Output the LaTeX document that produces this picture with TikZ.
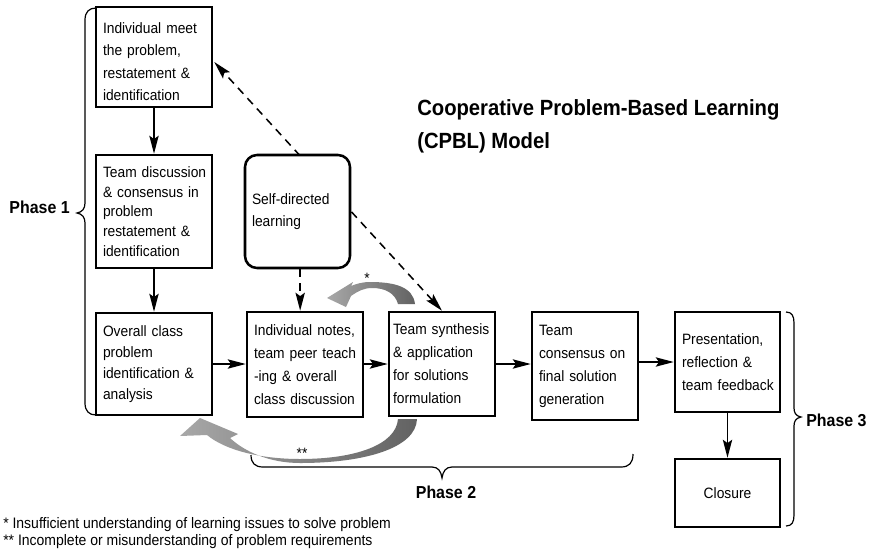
\documentclass[tikz,border=0pt]{standalone}
\usepackage{fontspec}
\setmainfont{Liberation Sans}[FakeStretch=0.92]
\usetikzlibrary{arrows.meta,calc}
\hyphenpenalty=10000\relax
\exhyphenpenalty=10000\relax

\definecolor{loopdark}{RGB}{98,98,98}
\definecolor{looplight}{RGB}{168,168,168}

\tikzset{
  stage/.style={draw, line width=1.9pt, fill=white, inner xsep=5.25pt, inner ysep=0pt, align=left},
  fs/.style={font=\fontsize{11.25}{#1}\selectfont},
  arr/.style={line width=1.15pt, ->},
  dasharr/.style={line width=1.15pt, dash pattern=on 6pt off 4.5pt},
  brace/.style={line width=0.9pt},
  phase/.style={font=\fontsize{13}{15}\selectfont\bfseries, inner sep=0pt},
  title/.style={font=\fontsize{16.5}{20}\selectfont\bfseries, inner sep=0pt},
  note/.style={font=\fontsize{11.4}{13}\selectfont, inner sep=0pt},
  starlabel/.style={font=\fontsize{11.25}{13}\selectfont, inner sep=0pt},
}

\begin{document}
\begin{tikzpicture}[x=0.75pt, y=-0.75pt, >={Stealth[length=13.5pt,width=7pt,inset=2.5pt]}]
\fill[white] (0,0) rectangle (874,554);
\useasboundingbox (0,0) rectangle (874,554);

% Phase 1 stages
\node[stage, fs=16.7pt, minimum width=87pt, minimum height=75pt, text width=76.5pt] (b1) at (154,57)
  {\rule{0pt}{15pt}Individual~meet\\the~problem,\\restatement~\&\\identification};
\node[stage, fs=14.85pt, minimum width=87pt, minimum height=84.75pt, text width=76.5pt] (b2) at (154,211.5)
  {Team~discussion\\\&~consensus~in\\problem\\restatement~\&\\identification};
\node[stage, fs=15.75pt, minimum width=87pt, minimum height=76.5pt, text width=76.5pt] (b3) at (154,364)
  {Overall~class\\problem\\identification~\&\\analysis};

% Phase 2 stages
\node[stage, fs=17.25pt, minimum width=87pt, minimum height=78.75pt, text width=76.5pt] (b4) at (305,364.5)
  {Individual~notes,\\team~peer~teach\\-ing~\&~overall\\class~discussion};
\node[stage, fs=17.25pt, inner xsep=3pt, minimum width=79.5pt, minimum height=78pt, text width=73.5pt] (b5) at (442,364)
  {Team~synthesis\\\&~application\\for~solutions\\formulation};
\node[stage, fs=17.25pt, minimum width=79.5pt, minimum height=81pt, text width=69pt] (b6) at (585,366)
  {Team\\consensus~on\\final~solution\\generation};

% Phase 3 stages
\node[stage, fs=17pt, minimum width=78.75pt, minimum height=75pt, text width=68.25pt] (b7) at (727.5,362)
  {Presentation,\\reflection~\&\\team~feedback};
\node[stage, fs=17pt, align=center, minimum width=78.75pt, minimum height=51pt, text width=68.25pt] (b8) at (727.5,493)
  {Closure};

% dashed link between synthesis and the first stage, passing behind self-directed learning
\draw[dasharr, <->] (b5.north) -- ($(b1.east)+(1,5)$);

\node[stage, rounded corners=9pt, fs=16.3pt, minimum width=78.75pt, minimum height=84.75pt, text width=68.25pt] (sdl) at (297.5,211.5)
  {Self-directed\\learning};

% main flow
\draw[arr] (b1) -- (b2);
\draw[arr] (b2) -- (b3);
\draw[dasharr, ->] ([xshift=2pt]sdl.south) -- ([xshift=2pt]sdl.south |- b4.north);
\draw[arr] (b3.east) -- (b3.east -| b4.west);
\draw[arr] (b5.west -| b4.east) -- (b5.west);
\draw[arr] (b5.east) -- (b5.east -| b6.west);
\draw[arr] (b7.west -| b6.east) -- (b7.west);
\draw[arr] (b7) -- (b8);

% phase braces
\draw[brace] (96,8) .. controls (89,8) and (85,12) .. (85,20) -- (85,203)
  .. controls (85,209) and (82,212) .. (77,213) .. controls (82,214) and (85,217) .. (85,223)
  -- (85,403) .. controls (85,411) and (89,415) .. (96,415);
\draw[brace] (251,455) .. controls (251,463) and (255,467) .. (263,467) -- (432,467)
  .. controls (438,467) and (441,471) .. (442,478) .. controls (443,471) and (446,467) .. (452,467)
  -- (621,467) .. controls (629,467) and (633,463) .. (633,454);
\draw[brace] (786,312) .. controls (792,312) and (794,316) .. (794,323) -- (794,408)
  .. controls (794,413) and (796,416) .. (801,417) .. controls (796,418) and (794,421) .. (794,426)
  -- (794,515) .. controls (794,522) and (792,526) .. (786,526);

\node[phase, anchor=base east] (p1) at (70,213) {Phase 1};
\node[phase, anchor=base] (p2) at (446,498) {Phase 2};
\node[phase, anchor=base west] (p3) at (806,426) {Phase 3};

% feedback loops
\shade[left color=looplight, right color=loopdark]
  (415,304) .. controls (413,287) and (395,282) .. (370,282)
  .. controls (362,282) and (356,284) .. (351,286) -- (353,282) -- (327,298) -- (346,307) -- (351,296)
  .. controls (358,291) and (364,288) .. (372,288)
  .. controls (385,288) and (395,293) .. (398,304) -- cycle;
\node[starlabel] (m1) at (367,278) {*};

\shade[left color=looplight, right color=loopdark]
  (417,419) .. controls (416,448) and (365,463) .. (300,463)
  .. controls (270,463) and (245,452) .. (230,438) -- (238,434) -- (200,418) -- (180,436) -- (207,435)
  .. controls (225,450) and (260,459) .. (300,459)
  .. controls (355,459) and (396,445) .. (398,419) -- cycle;
\node[starlabel] (m2) at (302,453) {**};

% title
\node[title, anchor=base west] (t1) at (417,115) {Cooperative Problem-Based Learning};
\node[title, anchor=base west] (t2) at (417,148) {(CPBL) Model};

% notes
\node[note, anchor=base west] (n1) at (3,528) {* Insufficient understanding of learning issues to solve problem};
\node[note, anchor=base west] (n2) at (3,545) {** Incomplete or misunderstanding of problem requirements};
\end{tikzpicture}
\end{document}
